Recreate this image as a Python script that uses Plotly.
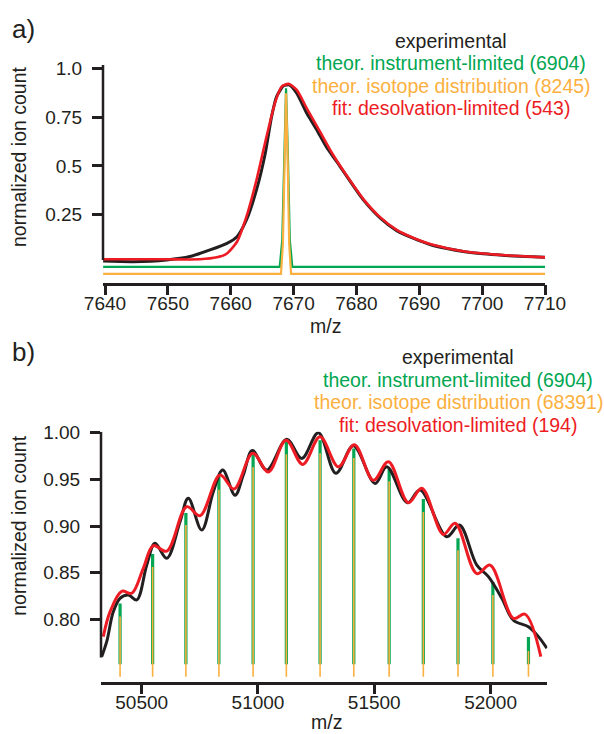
import plotly.graph_objects as go

# ---------------- Panel a data ----------------
a_exp_x = [7639.7, 7644.5, 7649.8, 7653.5, 7656.7, 7659.4, 7661.0, 7662.5, 7664.1, 7665.5,
           7666.5, 7667.3, 7668.4, 7669.3, 7670.5, 7672.1, 7673.7, 7675.2, 7677.4, 7678.5,
           7681.1, 7683.8, 7686.4, 7689.1, 7691.7, 7694.4, 7697.0, 7699.7, 7702.3, 7705.0, 7710.0]
a_exp_y = [0.012, 0.009, 0.018, 0.035, 0.069, 0.103, 0.137, 0.223, 0.377, 0.565,
           0.753, 0.856, 0.911, 0.916, 0.873, 0.770, 0.685, 0.599, 0.497, 0.445,
           0.326, 0.232, 0.168, 0.128, 0.097, 0.076, 0.061, 0.051, 0.044, 0.038, 0.031]

a_fit_x = [7639.7, 7649.8, 7655.1, 7657.8, 7659.4, 7661.0, 7662.5, 7664.1, 7665.7, 7667.1,
           7668.1, 7669.2, 7670.5, 7672.1, 7674.2, 7676.3, 7678.5, 7681.1, 7683.8, 7686.4,
           7689.1, 7691.7, 7694.4, 7697.0, 7699.7, 7702.3, 7705.0, 7710.0]
a_fit_y = [0.021, 0.021, 0.021, 0.031, 0.051, 0.111, 0.240, 0.428, 0.651, 0.830,
           0.907, 0.921, 0.890, 0.796, 0.676, 0.556, 0.448, 0.330, 0.236, 0.172,
           0.130, 0.099, 0.078, 0.062, 0.052, 0.045, 0.039, 0.031]

a_inst_x = [7639.7, 7667.8, 7668.2, 7668.5, 7668.8, 7669.1, 7669.4, 7669.8, 7710.0]
a_inst_y = [-0.018, -0.018, 0.12, 0.55, 0.899, 0.55, 0.12, -0.018, -0.018]

a_iso_x = [7639.7, 7668.0, 7668.3, 7668.55, 7668.8, 7669.05, 7669.3, 7669.6, 7710.0]
a_iso_y = [-0.054, -0.054, 0.10, 0.55, 0.873, 0.55, 0.10, -0.054, -0.054]

a_xticks = [7640, 7650, 7660, 7670, 7680, 7690, 7700, 7710]
a_yticks = [0.25, 0.5, 0.75, 1.0]
a_yticktext = ["0.25", "0.5", "0.75", "1.0"]

# ---------------- Panel b data ----------------
b_exp_x = [50328, 50349.5, 50377.8, 50406.7, 50442.4, 50478.5, 50521.5, 50557.2, 50607.5, 50664.7,
           50700.4, 50758.1, 50808.0, 50848.4, 50901.3, 50937.0, 50975.7, 51037.6, 51123.7, 51188.2,
           51259.6, 51335.0, 51410.1, 51503.4, 51553.8, 51642.4, 51697.0, 51811.8, 51866.0, 51940.9,
           51990.8, 52048.4, 52098.3, 52162.8, 52205.8, 52241.9]
b_exp_y = [0.760, 0.776, 0.808, 0.8225, 0.826, 0.8207, 0.858, 0.8815, 0.8654, 0.9046,
           0.9297, 0.8957, 0.9368, 0.960, 0.933, 0.9547, 0.981, 0.960, 0.993, 0.9725,
           1.000, 0.9565, 0.986, 0.9457, 0.9635, 0.925, 0.9386, 0.8885, 0.901, 0.858,
           0.8457, 0.8225, 0.799, 0.792, 0.7814, 0.769]

b_fit_x = [50334.8, 50363.7, 50414.0, 50457.0, 50506.9, 50549.9, 50607.5, 50693.5, 50750.8, 50836.8,
           50897.0, 50977.4, 51044.5, 51120.6, 51192.5, 51266.9, 51345.6, 51414.4, 51496.1, 51560.6,
           51646.7, 51704.3, 51797.2, 51847.5, 51940.9, 51998.1, 52098.3, 52148.6, 52216.1]
b_fit_y = [0.7814, 0.808, 0.830, 0.8279, 0.8547, 0.879, 0.873, 0.9207, 0.911, 0.9547,
           0.9397, 0.978, 0.958, 0.992, 0.966, 0.9957, 0.9635, 0.987, 0.949, 0.969,
           0.925, 0.9404, 0.891, 0.903, 0.849, 0.858, 0.801, 0.8054, 0.760]

b_peak_x = [50407, 50547, 50690, 50832, 50979, 51122, 51267, 51412, 51564, 51711, 51860, 52010, 52163]
b_inst_top = [0.817, 0.870, 0.914, 0.953, 0.976, 0.990, 0.992, 0.983, 0.962, 0.929, 0.887, 0.840, 0.781]
b_iso_top = [0.803, 0.856, 0.901, 0.939, 0.963, 0.977, 0.978, 0.973, 0.948, 0.915, 0.874, 0.826, 0.766]
b_inst_base = 0.7518
b_iso_base = 0.7385

b_xticks = [50500, 51000, 51500, 52000]
b_yticks = [0.80, 0.85, 0.90, 0.95, 1.00]

# ---------------- Styles ----------------
BLACK = "#231f20"
GREEN = "#00a651"
ORANGE = "#fbb040"
RED = "#ed1c24"
FONT = "Liberation Sans, Arial, sans-serif"
W, H = 604, 734


def px(x):
    return x / W


def py(y):
    return 1 - y / H


def sticks(xs, base, tops):
    sx, sy = [], []
    for x, t in zip(xs, tops):
        sx += [x, x, None]
        sy += [base, t, None]
    return sx, sy


fig = go.Figure()

# panel a
fig.add_trace(go.Scatter(x=a_exp_x, y=a_exp_y, mode="lines", line=dict(color=BLACK, width=3, shape="spline", smoothing=0.6),
                         xaxis="x", yaxis="y", showlegend=False))
fig.add_trace(go.Scatter(x=a_inst_x, y=a_inst_y, mode="lines", line=dict(color=GREEN, width=2.2),
                         xaxis="x", yaxis="y", showlegend=False))
fig.add_trace(go.Scatter(x=a_iso_x, y=a_iso_y, mode="lines", line=dict(color=ORANGE, width=2.2),
                         xaxis="x", yaxis="y", showlegend=False))
fig.add_trace(go.Scatter(x=a_fit_x, y=a_fit_y, mode="lines", line=dict(color=RED, width=2.6, shape="spline", smoothing=0.6),
                         xaxis="x", yaxis="y", showlegend=False))

# panel b
gx, gy = sticks(b_peak_x, b_inst_base, b_inst_top)
ox, oy = sticks(b_peak_x, b_iso_base, b_iso_top)
fig.add_trace(go.Scatter(x=gx, y=gy, mode="lines", line=dict(color=GREEN, width=3.2),
                         xaxis="x2", yaxis="y2", showlegend=False))
fig.add_trace(go.Scatter(x=ox, y=oy, mode="lines", line=dict(color=ORANGE, width=1.6),
                         xaxis="x2", yaxis="y2", showlegend=False))
fig.add_trace(go.Scatter(x=b_exp_x, y=b_exp_y, mode="lines", line=dict(color=BLACK, width=3, shape="spline", smoothing=1.0),
                         xaxis="x2", yaxis="y2", showlegend=False))
fig.add_trace(go.Scatter(x=b_fit_x, y=b_fit_y, mode="lines", line=dict(color=RED, width=3, shape="spline", smoothing=1.0),
                         xaxis="x2", yaxis="y2", showlegend=False))

tickfont = dict(family=FONT, size=19, color=BLACK)
common_x = dict(showline=True, linecolor=BLACK, linewidth=2.5, ticks="outside", ticklen=10, tickwidth=2.5,
                tickcolor=BLACK, showgrid=False, zeroline=False, tickfont=tickfont, ticklabelstandoff=-8,
                automargin=False)
common_y = dict(showline=False, ticks="outside", ticklen=10, tickwidth=2.5, tickcolor=BLACK,
                showgrid=False, zeroline=False, tickfont=tickfont, ticklabelstandoff=6, automargin=False)

fig.update_layout(
    width=W, height=H, margin=dict(l=0, r=0, t=0, b=0),
    paper_bgcolor="white", plot_bgcolor="white",
    xaxis=dict(domain=[px(103), px(545)], range=[7639.68, 7710.0], anchor="y",
               tickvals=a_xticks, tickformat="d", **common_x),
    yaxis=dict(domain=[py(282.5), py(65)], range=[-0.098, 1.018], anchor="x",
               tickvals=a_yticks, ticktext=a_yticktext, **common_y),
    xaxis2=dict(domain=[px(101), px(547.3)], range=[50325, 52244], anchor="y2",
                tickvals=b_xticks, tickformat="d", **common_x),
    yaxis2=dict(domain=[py(681.7), py(431.7)], range=[0.7331, 1.0011], anchor="x2",
                tickvals=b_yticks, tickformat=".2f", **common_y),
)

# vertical axis lines (offset style: stop at the data baseline)
fig.add_shape(type="line", xref="x domain", yref="y", x0=0, x1=0, y0=0.017, y1=1.018,
              line=dict(color=BLACK, width=2.5))
fig.add_shape(type="line", xref="x2 domain", yref="y2", x0=0, x1=0, y0=0.759, y1=1.0011,
              line=dict(color=BLACK, width=2.5))

LEG = 19.5


def ann(text, x, y, color=BLACK, size=LEG, angle=0):
    fig.add_annotation(text=text, x=px(x), y=py(y), xref="paper", yref="paper", showarrow=False,
                       xanchor="center", yanchor="middle", textangle=angle,
                       font=dict(family=FONT, size=size, color=color))


ann("a)", 23, 29, size=26)
ann("b)", 23, 352, size=26)

ann("experimental", 451, 40.8)
ann("theor. instrument-limited (6904)", 451, 63.3, GREEN)
ann("theor. isotope distribution (8245)", 451, 85.5, ORANGE)
ann("fit: desolvation-limited (543)", 451, 108, RED)

ann("experimental", 458, 356.7)
ann("theor. instrument-limited (6904)", 458, 380, GREEN)
ann("theor. isotope distribution (68391)", 458, 401.7, ORANGE)
ann("fit: desolvation-limited (194)", 458, 425, RED)

ann("m/z", 325, 326)
ann("m/z", 326, 721.5)
ann("normalized ion count", 18.3, 156.7, angle=-90)
ann("normalized ion count", 18.3, 525.5, angle=-90)

fig.write_html("out.html")
